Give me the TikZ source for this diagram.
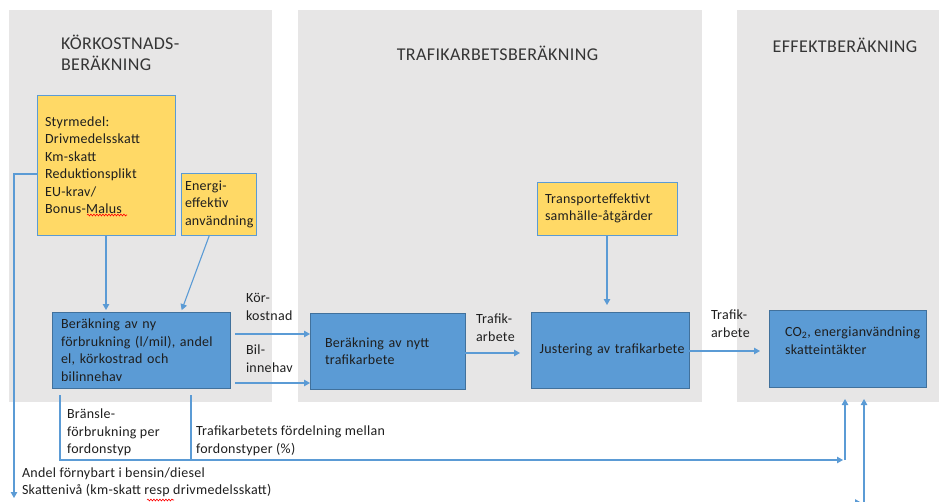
\documentclass[tikz,border=0pt]{standalone}
\usepackage{fontspec}
\setmainfont{Carlito}[LetterSpace=2]
\usetikzlibrary{arrows.meta,calc,decorations.pathmorphing}
\definecolor{panel}{HTML}{E7E6E6}
\definecolor{ylw}{HTML}{FFD966}
\definecolor{blu}{HTML}{5B9BD5}
\definecolor{bluedge}{HTML}{41719C}
\definecolor{ink}{HTML}{1E1E1E}
\begin{document}
\begin{tikzpicture}[x=1pt,y=-1pt,
  every node/.style={font=\fontsize{14}{17.5}\selectfont, text=ink, inner ysep=0pt, outer sep=0pt},
  ybox/.style={draw=blu, line width=0.9pt, fill=ylw, anchor=north west, align=left},
  bbox/.style={draw=bluedge, line width=0.9pt, fill=blu, anchor=north west, align=left},
  arr/.style={draw=blu, line width=1.1pt, -{Triangle[length=6pt,width=6.5pt]}},
  ln/.style={draw=blu, line width=1.1pt},
  lbl/.style={anchor=west, align=left, inner xsep=0pt},
  ttl/.style={font=\fontsize{18}{21}\selectfont, text=ink!90, inner xsep=0pt},
  spell/.style={draw=red, line width=0.6pt, decorate, decoration={snake, amplitude=0.9pt, segment length=3pt}}
]
\useasboundingbox (0,0) rectangle (939,501);
% panels
\fill[panel] (9,10) rectangle (272,402);
\fill[panel] (298,10) rectangle (702,402);
\fill[panel] (737,10) rectangle (939,402);
% titles
\node[ttl, anchor=west, align=left] (t1) at (61,52.5) {KÖRKOSTNADS-\\BERÄKNING};
\node[ttl] (t2) at (497.5,53) {TRAFIKARBETSBERÄKNING};
\node[ttl] (t3) at (845,45) {EFFEKTBERÄKNING};
% yellow boxes
\node[ybox, inner xsep=8pt, text width=122pt, minimum height=140pt] (sty) at (37,95)
  {Styrmedel:\\Drivmedelsskatt\\Km-skatt\\Reduktionsplikt\\EU-krav/\\Bonus-Malus};
\node[ybox, inner xsep=4pt, text width=67pt, minimum height=62pt] (en) at (181,173)
  {Energi-\\effektiv\\användning};
\node[ybox, inner xsep=8pt, text width=124pt, minimum height=53pt] (tr) at (537,182)
  {Transporteffektivt\\samhälle-åtgärder};
% blue boxes
\node[bbox, inner xsep=9pt, text width=160pt, minimum height=76pt] (b1) at (52,312)
  {Beräkning av ny\\förbrukning (l/mil), andel\\el, körkostrad och\\bilinnehav};
\node[bbox, inner xsep=15pt, text width=125pt, minimum height=76pt] (b2) at (310,313)
  {Beräkning av nytt\\trafikarbete};
\node[bbox, inner xsep=0pt, text width=158pt, minimum height=76pt, align=center] (b3) at (531,312)
  {\mbox{\hspace*{4pt}Justering av trafikarbete}};
\node[bbox, inner xsep=0pt, text width=157pt, minimum height=77pt] (b4) at (769,310) {};
\node[lbl] (b4t) at (785,340.5) {CO\textsubscript{2}, energianvändning\\skatteintäkter};
% spell-check marks
\draw[spell] (87,215) -- (127,215);
\draw[spell] (147,500) -- (174,500);
% connectors
\draw[arr, shorten >=2pt] (sty.south) -- (sty.south |- b1.north);
\draw[arr, shorten >=2pt] ($(en.south)+(-9,0)$) -- ($(b1.north east)+(-49,0)$);
\coordinate (lb) at (14,498);
\draw[arr] ($(sty.west)+(0,9)$) -| (lb);
\draw[arr] ($(b1.north east)+(5,22)$) coordinate (k1) -- (k1 -| b2.west);
\draw[arr] ($(b1.north east)+(5,71)$) coordinate (k2) -- (k2 -| b2.west);
\draw[arr, shorten >=11pt] ($(b2.north east)+(0,40)$) coordinate (m1) -- (m1 -| b3.west);
\draw[arr, shorten >=9pt] ($(b3.north east)+(0,39)$) coordinate (m2) -- (m2 -| b4.west);
\draw[arr, shorten >=7pt] (tr.south) -- (tr.south |- b3.north);
% bottom connectors
\coordinate (hx) at (843,460);
\draw[arr] ($(b1.south west)+(8,7)$) |- (hx);
\draw[ln] ($(b1.south west)+(139,7)$) -- ++(0,65);
\coordinate (v1) at (845,460);
\draw[arr] (v1) -- ($(b4.south)+(-2.5,12)$);
\coordinate (v2) at (864,510);
\draw[arr] (v2) -- ($(b4.south)+(16.5,12)$);
\coordinate (ba) at (820,502.5);
\coordinate (bb) at (861,502.5);
\draw[arr] (ba) -- (bb);
% labels
\node[lbl] (lk) at (246,307) {Kör-\\kostnad};
\node[lbl] (lbi) at (246,358.5) {Bil-\\innehav};
\node[lbl] (lt1) at (476,327.5) {Trafik-\\arbete};
\node[lbl] (lt2) at (711,323.5) {Trafik-\\arbete};
\node[lbl] (lbr) at (67,432.5) {Bränsle-\\förbrukning per\\fordonstyp};
\node[lbl] (ltf) at (196,441) {Trafikarbetets fördelning mellan\\fordonstyper (\%)};
\node[lbl] (lan) at (22,482.5) {Andel förnybart i bensin/diesel\\Skattenivå (km-skatt resp drivmedelsskatt)};
\end{tikzpicture}
\end{document}
